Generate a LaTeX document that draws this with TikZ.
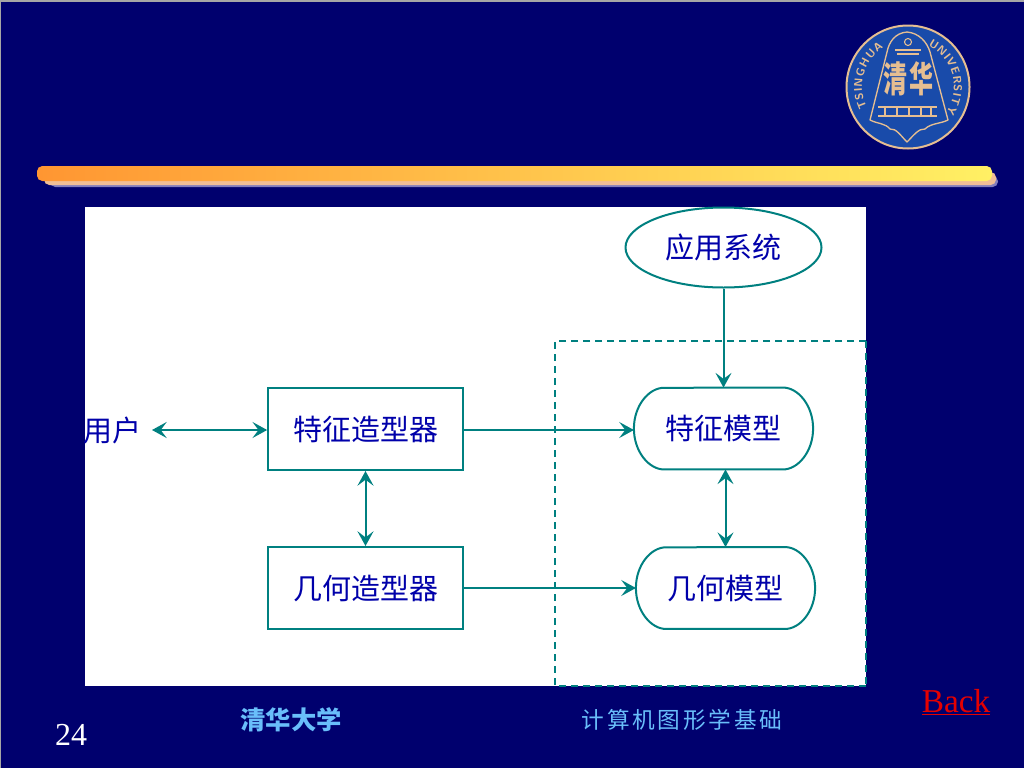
\documentclass[tikz,border=0pt]{standalone}
\usepackage{fontspec}
\setmainfont{Liberation Serif}
\newfontfamily\cjk{Noto Sans CJK SC}
\newfontfamily\cjkwide[LetterSpace=12]{Noto Sans CJK SC}
\definecolor{SlideNavy}{RGB}{0,0,110}
\definecolor{FlowTeal}{RGB}{0,128,128}
\definecolor{LabelBlue}{RGB}{0,0,170}
\definecolor{FootBlue}{RGB}{105,190,250}
\definecolor{BarOrange}{RGB}{255,150,50}
\definecolor{BarMid}{RGB}{255,195,70}
\definecolor{BarYellow}{RGB}{255,240,100}
\definecolor{BarPale}{RGB}{240,190,150}
\definecolor{BarShade}{RGB}{130,125,190}
\definecolor{SealBlue}{RGB}{25,75,170}
\definecolor{SealTan}{RGB}{230,190,145}
\usetikzlibrary{arrows.meta,positioning,calc,shapes.geometric,decorations.text}
\tikzset{
  label text/.style={text=LabelBlue,font=\cjk\fontsize{21.75}{24}\selectfont},
  toolbox/.style={draw=FlowTeal,line width=1.5pt,label text,minimum width=146pt,minimum height=61.5pt,inner sep=0pt},
  modelpill/.style={label text,minimum width=134pt,minimum height=61pt,inner sep=0pt},
  pillline/.style={draw=FlowTeal,line width=1.5pt},
  flow/.style={draw=FlowTeal,line width=1.5pt,-{Stealth[length=11pt,width=12pt,inset=4.5pt]}},
  twoflow/.style={flow,{Stealth[length=11pt,width=12pt,inset=4.5pt]}-{Stealth[length=11pt,width=12pt,inset=4.5pt]}},
  sealtext/.style={decorate,decoration={text along path,text align=fit to path,text={|\sffamily\bfseries\fontsize{8.5}{10}\selectfont\color{SealTan}|#1}}}
}
\newcommand{\pilloutline}[1]{\draw[pillline] (#1.west) .. controls +(0,-23) and +(-15,0) .. ++(30,-40.7) -- ($(#1.north east)+(-30,0)$) .. controls +(15,0) and +(0,-23) .. (#1.east) .. controls +(0,23) and +(15,0) .. ($(#1.south east)+(-30,0)$) -- ($(#1.south west)+(30,0)$) .. controls +(-15,0) and +(0,23) .. (#1.west) -- cycle;}
\begin{document}
\begin{tikzpicture}[x=0.75pt,y=-0.75pt]
\useasboundingbox (0,0) rectangle (1024,768);
% slide
\fill[SlideNavy] (0,0) rectangle (1024,768);
\fill[gray!70] (0,0) rectangle (1024,2);
\fill[gray!70] (0,0) rectangle (1,768);
% bar
\fill[BarShade,rounded corners=4pt] (50,176) rectangle (998,187);
\fill[BarPale,rounded corners=4pt] (44,172) rectangle (996,185);
\shade[left color=BarOrange,middle color=BarMid,right color=BarYellow,rounded corners=4pt] (37,166) rectangle (992,181);
% seal
\filldraw[draw=SealTan,fill=SealBlue,line width=1.5pt] (908,87) circle[radius=61.5];
\draw[SealTan,line width=1pt,fill=SealBlue,line join=round] (907,32) .. controls (895,33) and (889,42) .. (887,52) -- (870,120) .. controls (878,124) and (885,123) .. (890,129) .. controls (896,128) and (901,136) .. (907,142) .. controls (913,136) and (919,128) .. (925,129) .. controls (931,123) and (940,124) .. (948,120) -- (930,52) .. controls (927,42) and (919,33) .. (907,32) -- cycle;
\draw[SealTan,line width=0.8pt] (908,42) circle[radius=3.5];
\draw[SealTan,line width=1pt] (895,50) -- (921,50) (897,54) -- (919,54);
\path[sealtext={TSINGHUA}] plot[domain=207:122,samples=40] ({908+46*cos(\x)},{87-46*sin(\x)});
\path[sealtext={UNIVERSITY}] plot[domain=64:-34,samples=40] ({908+46*cos(\x)},{87-46*sin(\x)});
\node[text=SealTan,font=\cjk\bfseries\fontsize{18}{18}\selectfont,inner sep=0pt] (sealleft) at (895,79) {\scalebox{1}[1.5]{清}};
\node[text=SealTan,font=\cjk\bfseries\fontsize{18}{18}\selectfont,inner sep=0pt] (sealright) at (921,79) {\scalebox{1}[1.5]{华}};
\draw[SealTan,line width=1pt] (878,107) -- (937,107) (878,116) -- (937,116);
\foreach \xpos in {885,897,909,921,931} \draw[SealTan,line width=1pt] (\xpos,107) -- (\xpos,116);
% panel
\fill[white] (85,207) rectangle (866,686);
\draw[FlowTeal,line width=1.5pt,dash pattern=on 5.5pt off 3.5pt] (866,341) -- (555,341) -- (555,686) -- (866,686);
\draw[FlowTeal,line width=1.5pt,dash pattern=on 5.5pt off 3.5pt] (866,341) -- (866,686);
% nodes
\node[label text,inner sep=0pt] (user) at (112,430) {用户};
\coordinate (userend) at (152,430);
\node[toolbox] (featbox) at (365.5,429) {特征造型器};
\node[toolbox] (geombox) at (365.5,588) {几何造型器};
\node[draw=FlowTeal,line width=1.5pt,label text,ellipse,minimum width=147pt,minimum height=60pt,inner sep=0pt] (appsys) at (723.5,247.5) {应用系统};
\node[modelpill] (featmodel) at (723.5,428.5) {特征模型};
\node[modelpill] (geommodel) at (725.5,588) {几何模型};
\pilloutline{featmodel}
\pilloutline{geommodel}
% connectors
\draw[twoflow] (userend) -- (featbox.west |- userend);
\draw[flow] (featbox.east |- userend) -- (featmodel.west |- userend);
\draw[flow] (geombox) -- (geommodel);
\draw[flow] (appsys.south) -- (featmodel.north);
\draw[twoflow] (featbox) -- (geombox);
\draw[twoflow] (geommodel.north |- featmodel.south) -- (geommodel.north);
% footer
\node[text=FootBlue,font=\cjk\bfseries\fontsize{19}{20}\selectfont] (school) at (291,720) {清华大学};
\node[text=FootBlue,font=\cjkwide\fontsize{17}{20}\selectfont] (course) at (682,720) {计算机图形学基础};
\node[text=red!90!black,font=\fontsize{25}{28}\selectfont] (back) at (956,702) {\underline{Back}};
\node[text=white,font=\fontsize{24}{28}\selectfont] (pageno) at (71,735) {24};
\end{tikzpicture}
\end{document}
